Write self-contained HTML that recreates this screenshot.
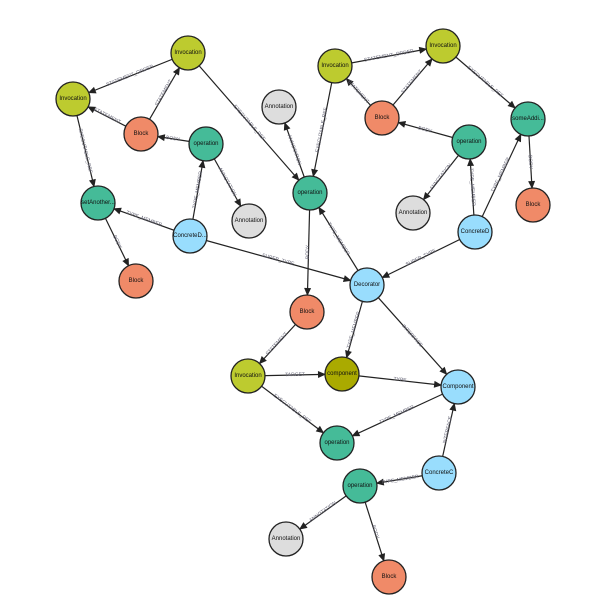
<!DOCTYPE html>
<html><head><meta charset="utf-8"><style>
html,body{margin:0;padding:0;background:#fff;}
svg{display:block;}
.e line{stroke:#222;stroke-width:1.2;marker-end:url(#a);}
.l text{font-family:"Liberation Sans",sans-serif;font-size:5px;fill:#667;text-anchor:middle;dominant-baseline:central;}
.n circle{stroke:#222;stroke-width:1.3;}
.n text{font-family:"Liberation Sans",sans-serif;font-size:6px;fill:#111;text-anchor:middle;dominant-baseline:central;}
</style></head><body>
<svg width="606" height="604" viewBox="0 0 606 604" xmlns="http://www.w3.org/2000/svg">
<defs><marker id="a" viewBox="0 -4 8 8" refX="24" refY="0" markerWidth="8" markerHeight="8" markerUnits="userSpaceOnUse" orient="auto" overflow="visible"><path d="M0,-3.5L8,0L0,3.5Z" fill="#222"/></marker></defs>
<g class="e">
<line x1="188" y1="53" x2="73" y2="99"/>
<line x1="141" y1="134" x2="188" y2="53"/>
<line x1="141" y1="134" x2="73" y2="99"/>
<line x1="206" y1="144" x2="141" y2="134"/>
<line x1="73" y1="99" x2="98" y2="203"/>
<line x1="188" y1="53" x2="310" y2="193"/>
<line x1="190" y1="236" x2="206" y2="144"/>
<line x1="206" y1="144" x2="249" y2="221"/>
<line x1="190" y1="236" x2="98" y2="203"/>
<line x1="98" y1="203" x2="136" y2="281"/>
<line x1="190" y1="236" x2="367" y2="285"/>
<line x1="310" y1="193" x2="279" y2="107"/>
<line x1="335" y1="66" x2="310" y2="193"/>
<line x1="310" y1="193" x2="307" y2="312"/>
<line x1="367" y1="285" x2="310" y2="193"/>
<line x1="335" y1="66" x2="443" y2="46"/>
<line x1="382" y1="118" x2="335" y2="66"/>
<line x1="382" y1="118" x2="443" y2="46"/>
<line x1="469" y1="142" x2="382" y2="118"/>
<line x1="443" y1="46" x2="528" y2="119"/>
<line x1="528" y1="119" x2="533" y2="205"/>
<line x1="469" y1="142" x2="413" y2="213"/>
<line x1="475" y1="232" x2="469" y2="142"/>
<line x1="475" y1="232" x2="528" y2="119"/>
<line x1="475" y1="232" x2="367" y2="285"/>
<line x1="367" y1="285" x2="342" y2="374"/>
<line x1="367" y1="285" x2="458" y2="387"/>
<line x1="307" y1="312" x2="248" y2="376"/>
<line x1="248" y1="376" x2="342" y2="374"/>
<line x1="342" y1="374" x2="458" y2="387"/>
<line x1="248" y1="376" x2="337" y2="443"/>
<line x1="458" y1="387" x2="337" y2="443"/>
<line x1="439" y1="473" x2="458" y2="387"/>
<line x1="439" y1="473" x2="360" y2="486"/>
<line x1="360" y1="486" x2="286" y2="539"/>
<line x1="360" y1="486" x2="389" y2="577"/>
</g>
<g class="l">
<text transform="translate(130,76) rotate(-21.8)">STATEMENT_ORDER</text>
<text transform="translate(164,93) rotate(-59.9)">STATEMENT</text>
<text transform="translate(107,116) rotate(27.2)">STATEMENT</text>
<text transform="translate(173,139) rotate(8.7)">BODY</text>
<text transform="translate(85,151) rotate(76.5)">EXECUTABLE_REF</text>
<text transform="translate(249,123) rotate(48.9)">EXECUTABLE_REF</text>
<text transform="translate(198,190) rotate(-80.1)">TYPE_MEMBER</text>
<text transform="translate(227,182) rotate(60.8)">ANNOTATION</text>
<text transform="translate(144,219) rotate(19.7)">TYPE_MEMBER</text>
<text transform="translate(117,242) rotate(64)">BODY</text>
<text transform="translate(278,260) rotate(15.5)">SUPER_TYPE</text>
<text transform="translate(294,150) rotate(70.2)">ANNOTATION</text>
<text transform="translate(322,130) rotate(-79)">EXECUTABLE_REF</text>
<text transform="translate(308,252) rotate(-88.6)">BODY</text>
<text transform="translate(338,239) rotate(58.2)">TYPE_MEMBER</text>
<text transform="translate(389,56) rotate(-10.5)">STATEMENT_ORDER</text>
<text transform="translate(358,92) rotate(47.9)">STATEMENT</text>
<text transform="translate(412,82) rotate(-49.7)">STATEMENT</text>
<text transform="translate(425,130) rotate(15.4)">BODY</text>
<text transform="translate(485,82) rotate(40.7)">EXECUTABLE_REF</text>
<text transform="translate(530,162) rotate(86.7)">BODY</text>
<text transform="translate(441,177) rotate(-51.7)">ANNOTATION</text>
<text transform="translate(472,187) rotate(86.2)">TYPE_MEMBER</text>
<text transform="translate(501,175) rotate(-64.9)">TYPE_MEMBER</text>
<text transform="translate(421,258) rotate(-26.1)">SUPER_TYPE</text>
<text transform="translate(354,330) rotate(-74.3)">TYPE_MEMBER</text>
<text transform="translate(412,336) rotate(48.3)">INTERFACE</text>
<text transform="translate(277,344) rotate(-47.3)">STATEMENT</text>
<text transform="translate(295,375) rotate(-1.2)">TARGET</text>
<text transform="translate(400,380) rotate(6.4)">TYPE</text>
<text transform="translate(292,409) rotate(37)">EXECUTABLE_REF</text>
<text transform="translate(397,415) rotate(-24.8)">TYPE_MEMBER</text>
<text transform="translate(448,430) rotate(-77.5)">INTERFACE</text>
<text transform="translate(400,480) rotate(-9.3)">TYPE_MEMBER</text>
<text transform="translate(323,512) rotate(-35.6)">ANNOTATION</text>
<text transform="translate(375,532) rotate(72.3)">BODY</text>
</g>
<g class="n">
<circle cx="188" cy="53" r="17" fill="#bdcb2f"/><text x="188" y="53">Invocation</text>
<circle cx="73" cy="99" r="17" fill="#bdcb2f"/><text x="73" y="99">Invocation</text>
<circle cx="141" cy="134" r="17" fill="#f08a68"/><text x="141" y="134">Block</text>
<circle cx="206" cy="144" r="17" fill="#45bb98"/><text x="206" y="144">operation</text>
<circle cx="98" cy="203" r="17" fill="#45bb98"/><text x="98" y="203">setAnother...</text>
<circle cx="190" cy="236" r="17" fill="#99ddfd"/><text x="190" y="236">ConcreteD...</text>
<circle cx="249" cy="221" r="17" fill="#dddddd"/><text x="249" y="221">Annotation</text>
<circle cx="136" cy="281" r="17" fill="#f08a68"/><text x="136" y="281">Block</text>
<circle cx="279" cy="107" r="17" fill="#dddddd"/><text x="279" y="107">Annotation</text>
<circle cx="310" cy="193" r="17" fill="#45bb98"/><text x="310" y="193">operation</text>
<circle cx="335" cy="66" r="17" fill="#bdcb2f"/><text x="335" y="66">Invocation</text>
<circle cx="443" cy="46" r="17" fill="#bdcb2f"/><text x="443" y="46">Invocation</text>
<circle cx="382" cy="118" r="17" fill="#f08a68"/><text x="382" y="118">Block</text>
<circle cx="469" cy="142" r="17" fill="#45bb98"/><text x="469" y="142">operation</text>
<circle cx="528" cy="119" r="17" fill="#45bb98"/><text x="528" y="119">someAddi...</text>
<circle cx="533" cy="205" r="17" fill="#f08a68"/><text x="533" y="205">Block</text>
<circle cx="413" cy="213" r="17" fill="#dddddd"/><text x="413" y="213">Annotation</text>
<circle cx="475" cy="232" r="17" fill="#99ddfd"/><text x="475" y="232">ConcreteD</text>
<circle cx="367" cy="285" r="17" fill="#99ddfd"/><text x="367" y="285">Decorator</text>
<circle cx="307" cy="312" r="17" fill="#f08a68"/><text x="307" y="312">Block</text>
<circle cx="248" cy="376" r="17" fill="#bdcb2f"/><text x="248" y="376">Invocation</text>
<circle cx="342" cy="374" r="17" fill="#aaaa00"/><text x="342" y="374">component</text>
<circle cx="458" cy="387" r="17" fill="#99ddfd"/><text x="458" y="387">Component</text>
<circle cx="337" cy="443" r="17" fill="#45bb98"/><text x="337" y="443">operation</text>
<circle cx="439" cy="473" r="17" fill="#99ddfd"/><text x="439" y="473">ConcreteC</text>
<circle cx="360" cy="486" r="17" fill="#45bb98"/><text x="360" y="486">operation</text>
<circle cx="286" cy="539" r="17" fill="#dddddd"/><text x="286" y="539">Annotation</text>
<circle cx="389" cy="577" r="17" fill="#f08a68"/><text x="389" y="577">Block</text>
</g>
</svg>
</body></html>
